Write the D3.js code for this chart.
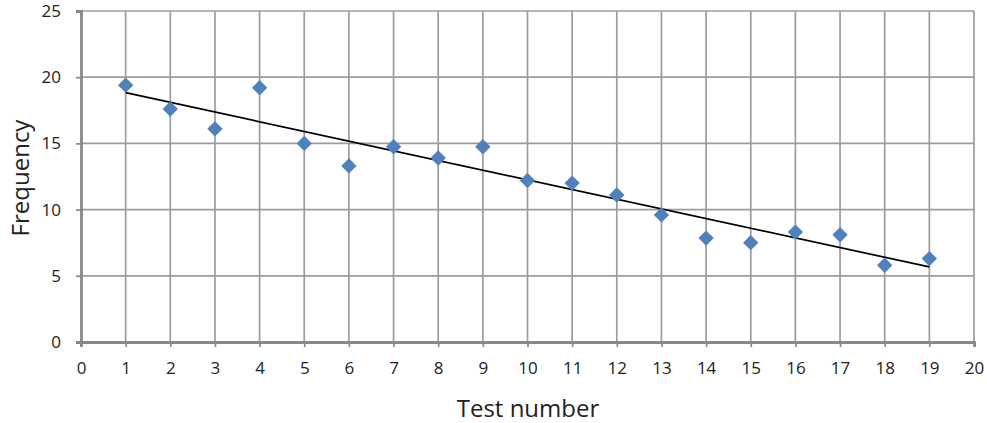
<!DOCTYPE html>
<html>
<head>
<meta charset="utf-8">
<script src="https://cdn.jsdelivr.net/npm/d3@7"></script>
<style>
  body { margin: 0; background: #fff; }
  text { font-family: "Open Sans", sans-serif; fill: #222; }
</style>
</head>
<body>
<div id="graf"></div>
<script>
// Datos
var testNumber = [1, 2, 3, 4, 5, 6, 7, 8, 9, 10, 11, 12, 13, 14, 15, 16, 17, 18, 19];
var frequency = [19.4, 17.6, 16.1, 19.2, 15.0, 13.3, 14.75, 13.9, 14.75, 12.2, 12.0, 11.1, 9.6, 7.85, 7.5, 8.3, 8.1, 5.8, 6.3];
var xTicks = d3.range(0, 21);
var yTicks = [0, 5, 10, 15, 20, 25];

var ancho_total = 987, alto_total = 423;
var margins = { top: 11, left: 81, right: 13, bottom: 81 };
var ancho = ancho_total - margins.left - margins.right;
var alto = alto_total - margins.top - margins.bottom;

var svg = d3.select("#graf").append("svg")
  .attr("width", ancho_total)
  .attr("height", alto_total);

var g = svg.append("g")
  .attr("transform", `translate(${margins.left}, ${margins.top})`);

// Escaladores
var x = d3.scaleLinear().domain([0, 20]).range([0, ancho]);
var y = d3.scaleLinear().domain([0, 25]).range([alto, 0]);

// Rejilla
g.append("g").selectAll("line").data(xTicks.slice(1)).join("line")
  .attr("x1", d => x(d)).attr("x2", d => x(d))
  .attr("y1", 0).attr("y2", alto)
  .attr("stroke", "#9c9c9c").attr("stroke-width", 1.7);
g.append("g").selectAll("line").data(yTicks.slice(1)).join("line")
  .attr("x1", 0).attr("x2", ancho)
  .attr("y1", d => y(d)).attr("y2", d => y(d))
  .attr("stroke", "#9c9c9c").attr("stroke-width", 1.7);

// Ejes
var xAxis = g.append("g")
  .attr("transform", `translate(0, ${alto})`)
  .call(d3.axisBottom(x).tickValues(xTicks).tickSize(5).tickPadding(15).tickFormat(d3.format("d")));
var yAxis = g.append("g")
  .call(d3.axisLeft(y).tickValues(yTicks).tickSize(5).tickPadding(15).tickFormat(d3.format("d")));

[xAxis, yAxis].forEach(a => {
  a.select(".domain").attr("stroke", "#888").attr("stroke-width", 2.8);
  a.selectAll(".tick line").attr("stroke", "#888").attr("stroke-width", 1.7);
  a.selectAll(".tick text").style("font-size", "17px").attr("fill", "#1a1a1a");
});

// Línea de tendencia (mínimos cuadrados)
var mx = d3.mean(testNumber), my = d3.mean(frequency);
var sxy = d3.sum(testNumber, (d, i) => (d - mx) * (frequency[i] - my));
var sxx = d3.sum(testNumber, d => (d - mx) * (d - mx));
var slope = sxy / sxx, intercept = my - slope * mx;
var ext = d3.extent(testNumber);

g.append("path")
  .datum(ext)
  .attr("fill", "none")
  .attr("stroke", "#000")
  .attr("stroke-width", 1.7)
  .attr("d", d3.line().x(d => x(d)).y(d => y(intercept + slope * d)));

// Puntos
var diamond = d3.symbol().type(d3.symbolDiamond2).size(150);
g.append("g").selectAll("path").data(testNumber).join("path")
  .attr("transform", (d, i) => `translate(${x(d)}, ${y(frequency[i])})`)
  .attr("d", diamond)
  .attr("fill", "#4f81bd");

// Títulos
svg.append("text")
  .attr("x", 528)
  .attr("y", 417)
  .attr("text-anchor", "middle")
  .style("font-size", "24px")
  .text("Test number");

svg.append("text")
  .attr("transform", `translate(29, 178) rotate(-90)`)
  .attr("text-anchor", "middle")
  .style("font-size", "24px")
  .text("Frequency");
</script>
</body>
</html>
